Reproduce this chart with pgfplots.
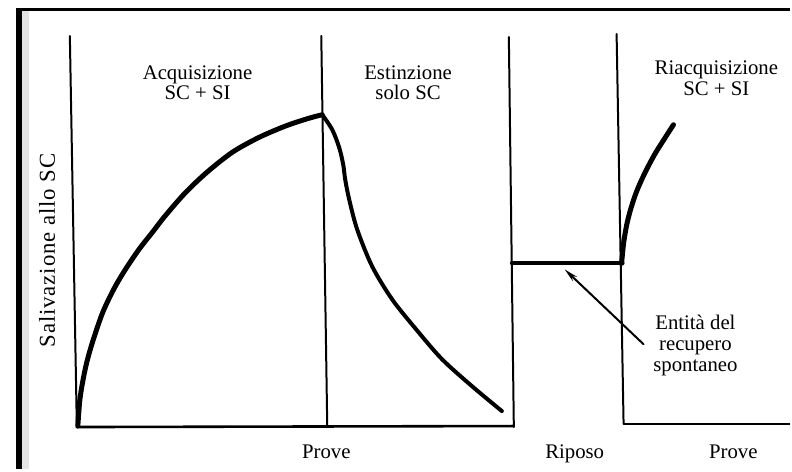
\documentclass[border=0pt]{standalone}
\usepackage{fontspec}
\setmainfont{Liberation Serif}
\usepackage{pgfplots}
\pgfplotsset{compat=1.18}
\usetikzlibrary{arrows.meta}
\tikzset{txt/.style={font=\fontsize{10.4}{12}\selectfont, anchor=base, inner sep=0pt}}

\begin{document}
\begin{tikzpicture}
\begin{axis}[
  width=396pt, height=235pt, scale only axis,
  xmin=0, xmax=792, ymin=0, ymax=470, y dir=reverse,
  axis lines=none, clip=false,
  every axis plot/.append style={black, no markers, line cap=round, line join=round},
]
\path (rel axis cs:0,0) rectangle (rel axis cs:1,1);

% scan shadow and frame
\addplot[fill=black!10, draw=none] coordinates {(22,11) (29,11) (29,470) (22,470)} -- cycle;
\addplot[line width=3pt, line cap=butt] coordinates {(19,470) (19,8)};
\addplot[line width=1.8pt, line cap=butt] coordinates {(16,9.5) (792,9.5)};

% panel lines
\addplot[line width=1pt] coordinates {(70,36) (77,428)};
\addplot[line width=1pt] coordinates {(322,36) (328,428)};
\addplot[line width=1pt] coordinates {(510,37) (515,428)};
\addplot[line width=1pt] coordinates {(618,34) (625,425)};
\addplot[line width=1.3pt] coordinates {(77,428) (515,427)};
\addplot[line width=1.3pt, line cap=butt] coordinates {(625,425) (792,425)};

% acquisition
\addplot[line width=2.5pt, smooth] coordinates {
(78,427) (80,401) (83,382) (87,363) (93,342) (103,313) (115,288) (127,268)
(140,249) (153,232.5) (165,217) (185,194) (207,173) (233,152.5) (260,137.5)
(287,126) (310,118.4) (323,115)};

% extinction
\addplot[line width=2pt, smooth] coordinates {
(323,115) (333,130) (340,148) (344,165) (346,180) (350,200) (358,230)
(373,267) (393,300) (417,330) (443,360) (473,387) (503,412)};

% rest level
\addplot[line width=2pt] coordinates {(513,264) (624,264)};

% reacquisition
\addplot[line width=2.5pt, smooth] coordinates {
(623,264) (625,244) (628,226) (632,210) (638,192) (646,174) (656,155) (666,139) (675,125)};

% arrow
\addplot[line width=1pt, -{Stealth[length=7pt, width=3pt]}] coordinates {(645,345) (566,270)};

% texts
\node[txt] at (198,80) {Acquisizione};
\node[txt] at (198,100) {SC + SI};
\node[txt] at (409,80) {Estinzione};
\node[txt] at (409,100) {solo SC};
\node[txt] at (718,75) {Riacquisizione};
\node[txt] at (718,96) {SC + SI};
\node[txt] at (697,330) {Entità del};
\node[txt] at (697,351) {recupero};
\node[txt] at (697,372) {spontaneo};
\node[txt] at (327,460) {Prove};
\node[txt] at (576,460) {Riposo};
\node[txt] at (735,460) {Prove};
\node[txt, rotate=90, font=\fontsize{11.4}{13}\selectfont\addfontfeature{LetterSpace=4}] at (55,251) {Salivazione allo SC};
\end{axis}
\end{tikzpicture}
\end{document}
